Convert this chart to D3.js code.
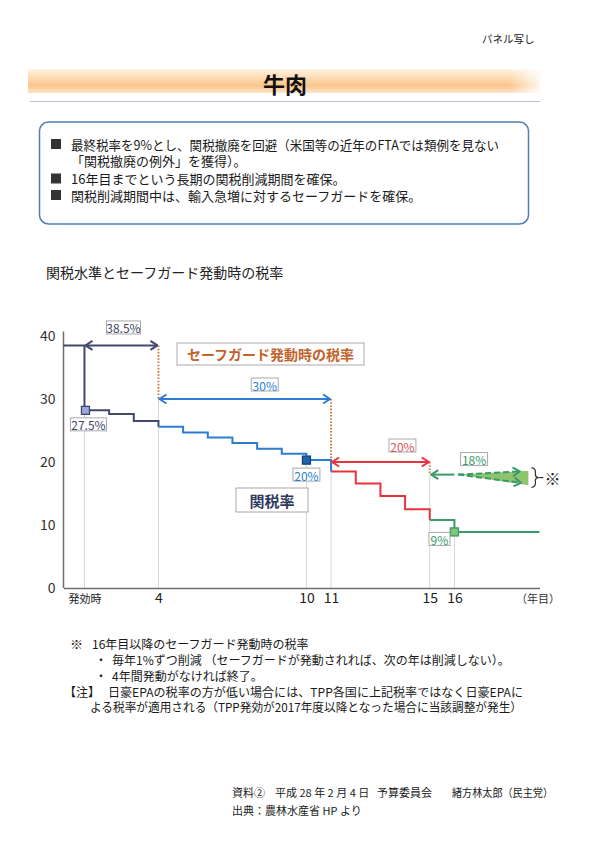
<!DOCTYPE html>
<html><head><meta charset="utf-8">
<script src="https://cdn.jsdelivr.net/npm/d3@7"></script>
<style>
body{margin:0;background:#fff}
svg{display:block}
text{font-family:"Noto Sans CJK JP","Noto Sans",sans-serif}
</style>
</head><body>
<svg id="c" width="608" height="860"></svg>
<script>
// ---------- data ----------
const years = [1,2,3,4,5,6,7,8,9,10,11,12,13,14,15,16];
const tariffRates = [28.2,27.6,26.5,25.6,24.7,23.9,23.0,22.1,21.3,20.3,18.5,16.6,14.6,12.5,10.8,8.9];
const baseRate = 38.5;
const phaseBreaks = [4, 11, 15];
const phaseColors = ["#414a6c", "#2b7dd2", "#e8333d", "#3b9a6b"];
const sgStart = [1, 4, 11, 15];
const sgEnd = [4, 11, 15, 16];
const sgRates = [38.5, 30, 20, 18];
const sgLabels = ["38.5%", "30%", "20%", "18%"];
const markerYears = [1, 10, 16];
const markerLabels = ["27.5%", "20%", "9%"];
const triYears = [16.15, 19, 19];
const triRates = [18, 18.6, 16.3];
const dashEndYears = [18.65, 18.7];
const dashEndRates = [18.5, 16.7];
const yTicks = [0, 10, 20, 30, 40];
const xTicks = [1, 4, 10, 11, 15, 16];
const xTickLabels = ["発効時", "4", "10", "11", "15", "16"];

const svg = d3.select("#c");
const defs = svg.append("defs");

// ---------- header ----------
svg.append("text").attr("x", 482).attr("y", 38).attr("dominant-baseline", "central")
  .attr("font-size", 10.5).attr("fill", "#222").text("パネル写し");

const g1 = defs.append("linearGradient").attr("id", "band").attr("x1", 0).attr("x2", 0).attr("y1", 0).attr("y2", 1);
[["0%", "#fff3e4"], ["35%", "#fddcb4"], ["70%", "#f9c58c"], ["100%", "#fde6cc"]]
  .forEach(s => g1.append("stop").attr("offset", s[0]).attr("stop-color", s[1]));
const g2 = defs.append("linearGradient").attr("id", "bandh").attr("x1", 0).attr("x2", 1).attr("y1", 0).attr("y2", 0);
[["0%", "#fff", 0], ["94%", "#fff", 0], ["100%", "#fff", 0.85]]
  .forEach(s => g2.append("stop").attr("offset", s[0]).attr("stop-color", s[1]).attr("stop-opacity", s[2]));
svg.append("rect").attr("x", 28).attr("y", 69).attr("width", 512).attr("height", 24).attr("fill", "url(#band)");
svg.append("rect").attr("x", 28).attr("y", 69).attr("width", 512).attr("height", 24).attr("fill", "url(#bandh)");
svg.append("line").attr("x1", 30).attr("x2", 540).attr("y1", 101.5).attr("y2", 101.5)
  .attr("stroke", "#b9c0d2").attr("stroke-width", 1);
svg.append("text").attr("x", 285).attr("y", 83).attr("text-anchor", "middle").attr("dominant-baseline", "central")
  .attr("font-size", 22).attr("font-weight", "bold").attr("fill", "#111").text("牛肉");

// ---------- summary box ----------
svg.append("rect").attr("x", 39.5).attr("y", 122).attr("width", 489).attr("height", 102).attr("rx", 9)
  .attr("fill", "#fff").attr("stroke", "#4f7db5").attr("stroke-width", 1.5);
const boxLines = [
  {b: true, y: 144, t: "最終税率を9%とし、関税撤廃を回避（米国等の近年のFTAでは類例を見ない"},
  {b: false, y: 160, t: "「関税撤廃の例外」を獲得）。"},
  {b: true, y: 178.5, t: "16年目までという長期の関税削減期間を確保。"},
  {b: true, y: 195, t: "関税削減期間中は、輸入急増に対するセーフガードを確保。"}
];
boxLines.forEach(l => {
  if (l.b) svg.append("rect").attr("x", 51).attr("y", l.y - 5).attr("width", 10).attr("height", 10).attr("fill", "#333");
  const t = svg.append("text").attr("x", 71).attr("y", l.y).attr("dominant-baseline", "central")
    .attr("font-size", 13).attr("fill", "#1a1a1a").text(l.t);
  if (l.y === 144) t.attr("textLength", 428).attr("lengthAdjust", "spacingAndGlyphs");
});

svg.append("text").attr("x", 46).attr("y", 272).attr("dominant-baseline", "central")
  .attr("font-size", 14).attr("fill", "#222").text("関税水準とセーフガード発動時の税率");

// ---------- scales ----------
const x = d3.scaleLinear().domain([0.15, 19.45]).range([63.5, 539.5]);
const y = d3.scaleLinear().domain([0, 40]).range([588, 336]);

// arrow markers
function arrowMarker(id, color) {
  defs.append("marker").attr("id", id).attr("viewBox", "-9 -6 10 12").attr("refX", 0).attr("refY", 0)
    .attr("markerUnits", "userSpaceOnUse").attr("markerWidth", 10).attr("markerHeight", 12)
    .attr("orient", "auto-start-reverse")
    .append("path").attr("d", "M-7,-4.5L0,0L-7,4.5").attr("fill", "none")
    .attr("stroke", color).attr("stroke-width", 2).attr("stroke-dasharray", "none");
}
phaseColors.forEach((c, i) => arrowMarker("ah" + i, c));

const chart = svg.append("g");

// grey guides
xTicks.forEach(yr => {
  const si = sgStart.indexOf(yr);
  const top = si >= 0 ? sgRates[si] : tariffRates[years.indexOf(yr)];
  chart.append("line").attr("x1", x(yr)).attr("x2", x(yr)).attr("y1", y(top)).attr("y2", y(0))
    .attr("stroke", "#d6d6d6").attr("stroke-width", 1);
});

// axes
const yAxis = chart.append("g").attr("transform", `translate(${x(0.15)},0)`)
  .call(d3.axisLeft(y).tickValues(yTicks).tickSize(0).tickPadding(8));
yAxis.select(".domain").remove();
yAxis.selectAll("text").attr("font-size", 14).attr("fill", "#333").attr("font-family", "Noto Sans");
chart.append("line").attr("x1", x(0.15)).attr("x2", x(0.15)).attr("y1", y(0)).attr("y2", y(40.7))
  .attr("stroke", "#6e6e6e").attr("stroke-width", 1.5);

const xAxis = chart.append("g").attr("transform", `translate(0,${y(0)})`)
  .call(d3.axisBottom(x).tickValues(xTicks).tickSize(0).tickPadding(5)
    .tickFormat((d, i) => xTickLabels[i]));
xAxis.select(".domain").attr("stroke", "#6e6e6e").attr("stroke-width", 1.5);
xAxis.selectAll("text").attr("fill", "#222").attr("font-family", "Noto Sans")
  .attr("font-size", (d, i) => i === 0 ? 11 : 14)
  .attr("dy", (d, i) => i === 0 ? "0.9em" : "0.71em");
chart.append("text").attr("x", 538).attr("y", 598).attr("text-anchor", "middle").attr("dominant-baseline", "central")
  .attr("font-size", 11).attr("fill", "#333").text("（年目）");

// orange dotted transitions
for (let i = 1; i < sgStart.length; i++) {
  chart.append("line").attr("x1", x(sgStart[i])).attr("x2", x(sgStart[i]))
    .attr("y1", y(sgRates[i - 1])).attr("y2", y(sgRates[i]))
    .attr("stroke", "#c97d4c").attr("stroke-width", 2).attr("stroke-dasharray", "1.6,1.6");
}

// tariff step line
const pts = [{yr: x.domain()[0], v: baseRate}]
  .concat(years.map((yr, i) => ({yr, v: tariffRates[i]})))
  .concat([{yr: x.domain()[1], v: tariffRates[tariffRates.length - 1]}]);
const bounds = [x.domain()[0]].concat(phaseBreaks, [x.domain()[1]]);
const stepLine = d3.line().x(d => x(d.yr)).y(d => y(d.v)).curve(d3.curveStepAfter);
for (let i = 0; i < bounds.length - 1; i++) {
  const seg = pts.filter(p => p.yr >= bounds[i] && p.yr <= bounds[i + 1]);
  chart.append("path").attr("d", stepLine(seg)).attr("fill", "none")
    .attr("stroke", phaseColors[i]).attr("stroke-width", 2);
}

// safeguard arrows
sgStart.forEach((s, i) => {
  if (i < 3) {
    chart.append("line").attr("x1", x(s) + 1).attr("x2", x(sgEnd[i]) - 1)
      .attr("y1", y(sgRates[i])).attr("y2", y(sgRates[i]))
      .attr("stroke", phaseColors[i]).attr("stroke-width", 2)
      .attr("marker-start", `url(#ah${i})`).attr("marker-end", `url(#ah${i})`);
  } else {
    chart.append("line").attr("x1", x(s) + 1.5).attr("x2", x(sgEnd[i]))
      .attr("y1", y(sgRates[i])).attr("y2", y(sgRates[i]))
      .attr("stroke", phaseColors[i]).attr("stroke-width", 2)
      .attr("marker-start", `url(#ah${i})`);
  }
});

// post-16 safeguard triangle
chart.append("polygon")
  .attr("points", triYears.map((yr, i) => [x(yr), y(triRates[i])].join(",")).join(" "))
  .attr("fill", "#8fc36d").attr("stroke", "none");
dashEndYears.forEach((yr, i) => {
  chart.append("line").attr("x1", x(triYears[0])).attr("y1", y(triRates[0]))
    .attr("x2", x(yr)).attr("y2", y(dashEndRates[i]))
    .attr("stroke", phaseColors[3]).attr("stroke-width", 2).attr("stroke-dasharray", "6,3")
    .attr("marker-end", "url(#ah3)");
});
// bracket + ※
{
  const bx = x(19) + 3, top = y(triRates[1]) - 3, bot = y(triRates[2]) + 2, mid = (top + bot) / 2;
  chart.append("path")
    .attr("d", `M${bx},${top} Q${bx + 4},${top} ${bx + 4},${top + 4} L${bx + 4},${mid - 3} Q${bx + 4},${mid} ${bx + 7},${mid} Q${bx + 4},${mid} ${bx + 4},${mid + 3} L${bx + 4},${bot - 4} Q${bx + 4},${bot} ${bx},${bot}`)
    .attr("fill", "none").attr("stroke", "#333").attr("stroke-width", 1.2);
  chart.append("line").attr("x1", bx + 7).attr("x2", bx + 12).attr("y1", mid).attr("y2", mid)
    .attr("stroke", "#333").attr("stroke-width", 1.2);
  chart.append("text").attr("x", bx + 21).attr("y", mid).attr("text-anchor", "middle").attr("dominant-baseline", "central")
    .attr("font-size", 16).attr("fill", "#222").text("※");
}

// markers
const markerFill = ["#9ea8d8", "#1f64b0", "#7fc47f"];
const markerStroke = ["#3c4670", "#183f73", "#3a9a5a"];
markerYears.forEach((yr, i) => {
  const v = tariffRates[years.indexOf(yr)];
  chart.append("rect").attr("x", x(yr) - 4 + (i === 0 ? 1 : 0)).attr("y", y(v) - 4).attr("width", 8).attr("height", 8)
    .attr("fill", markerFill[i]).attr("stroke", markerStroke[i]).attr("stroke-width", 1.3);
});

// value labels in boxes
function boxLabel(cx, cy, w, h, txt, color, size, bold) {
  chart.append("rect").attr("x", cx - w / 2).attr("y", cy - h / 2).attr("width", w).attr("height", h)
    .attr("fill", "#fff").attr("stroke", "#a9a9a9").attr("stroke-width", 1);
  chart.append("text").attr("x", cx).attr("y", cy + 0.5).attr("text-anchor", "middle").attr("dominant-baseline", "central")
    .attr("font-size", size).attr("font-weight", bold ? "bold" : "normal").attr("fill", color)
    .attr("font-family", bold ? "Noto Sans CJK JP" : "Noto Sans").text(txt);
}
// safeguard labels (positioned relative to arrow centres)
const sgLabelOff = [[2, -18], [20, -14.5], [22, -16.5], [32, -15.5]];
sgLabels.forEach((t, i) => {
  const cx = (x(sgStart[i]) + x(sgEnd[i])) / 2 + sgLabelOff[i][0];
  const cy = y(sgRates[i]) + sgLabelOff[i][1];
  const w = t.length > 3 ? 34 : 27;
  boxLabel(cx, cy, w, 13, t, ["#3c4466", "#2b7dd2", "#e0505c", "#3b9a6b"][i], 12, false);
});
const mkLabelOff = [[4, 14], [0, 14.5], [-15, 7]];
markerLabels.forEach((t, i) => {
  const yr = markerYears[i];
  const cx = x(yr) + mkLabelOff[i][0];
  const cy = y(tariffRates[years.indexOf(yr)]) + mkLabelOff[i][1];
  const w = t.length > 3 ? 36 : (t.length > 2 ? 27 : 21);
  boxLabel(cx, cy, w, 13, t, ["#3c4466", "#2b7dd2", "#3b9a6b"][i], 12, false);
});

// series name boxes
chart.append("rect").attr("x", 177).attr("y", 343).attr("width", 187).attr("height", 22)
  .attr("fill", "#fff").attr("stroke", "#a9a9a9");
chart.append("text").attr("x", 270.5).attr("y", 354).attr("text-anchor", "middle").attr("dominant-baseline", "central")
  .attr("font-size", 14).attr("font-weight", "bold").attr("fill", "#c2632c").text("セーフガード発動時の税率");
chart.append("rect").attr("x", 236).attr("y", 488).attr("width", 72).attr("height", 24)
  .attr("fill", "#fff").attr("stroke", "#a9a9a9");
chart.append("text").attr("x", 272).attr("y", 500).attr("text-anchor", "middle").attr("dominant-baseline", "central")
  .attr("font-size", 15).attr("font-weight", "bold").attr("fill", "#2f3a5e").text("関税率");

// ---------- footnotes ----------
const notes = [
  {x: 70, y: 643, t: "※", s: 13},
  {x: 92, y: 643, t: "16年目以降のセーフガード発動時の税率", s: 12},
  {x: 95, y: 659, t: "・", s: 12},
  {x: 112, y: 659, t: "毎年1%ずつ削減 （セーフガードが発動されれば、次の年は削減しない）。", s: 12},
  {x: 95, y: 675, t: "・", s: 12},
  {x: 112, y: 675, t: "4年間発動がなければ終了。", s: 12},
  {x: 64, y: 691, t: "【注】", s: 12},
  {x: 108, y: 691, t: "日豪EPAの税率の方が低い場合には、TPP各国に上記税率ではなく日豪EPAに", s: 12, L: 415},
  {x: 90, y: 706, t: "よる税率が適用される（TPP発効が2017年度以降となった場合に当該調整が発生）", s: 12, L: 432},
  {x: 232, y: 792, t: "資料②", s: 11},
  {x: 275, y: 792, t: "平成 28 年 2 月 4 日", s: 11},
  {x: 377, y: 792, t: "予算委員会", s: 11},
  {x: 452, y: 792, t: "緒方林太郎（民主党）", s: 11, L: 101},
  {x: 232, y: 810, t: "出典：農林水産省 HP より", s: 11}
];
notes.forEach(n => {
  const t = svg.append("text").attr("x", n.x).attr("y", n.y).attr("dominant-baseline", "central")
    .attr("font-size", n.s).attr("fill", "#1a1a1a").attr("xml:space", "preserve").text(n.t);
  if (n.L) t.attr("textLength", n.L).attr("lengthAdjust", "spacingAndGlyphs");
});
</script>
</body></html>
